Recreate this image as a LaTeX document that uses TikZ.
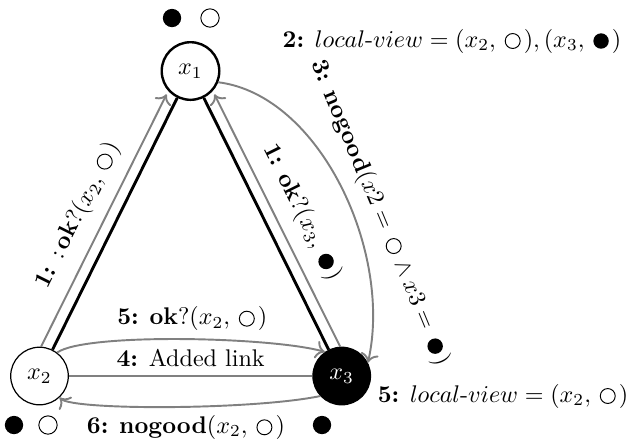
\documentclass[tikz,border=0pt]{standalone}
\usetikzlibrary{arrows.meta}
\newcommand{\Wc}{\kern2pt\tikz[baseline=-2.5pt]\draw[black,line width=0.4pt,-] (0,0) circle[radius=3.1pt];\kern1.3pt}
\newcommand{\Bc}{\kern2pt\tikz[baseline=-2.5pt]\fill[black] (0,0) circle[radius=3.2pt];\kern1.3pt}
\begin{document}
\begin{tikzpicture}[x=0.415pt,y=-0.415pt,
  var/.style={circle,draw,minimum size=23.9pt,inner sep=0pt,line width=0.5pt},
  edge/.style={line width=1.2pt,draw=black},
  msg/.style={draw=gray,line width=0.8pt,-{To[length=3.8pt,width=7.5pt]}},
  link/.style={draw=gray,line width=0.8pt},
  dot/.style={circle,inner sep=0pt,minimum size=7.6pt}]
\useasboundingbox (0,0) rectangle (637,446);
\node[var,line width=1pt] (x1) at (190.5,71) {$x_1$};
\node[var] (x2) at (39.5,376) {$x_2$};
\node[var,fill=black,text=white] (x3) at (341.7,376) {$x_3$};
\draw[edge] (x1) -- (x2);
\draw[edge] (x1) -- (x3);
\draw[msg,shorten >=1.5pt] (x2.87) -- node[sloped,above=2pt,pos=0.47] {\textbf{1:} :\,\textbf{ok}?$(x_2,\Wc)$} (x1.222);
\draw[msg,shorten >=1.5pt] (x3.93) -- node[sloped,above=2pt,pos=0.48] {\textbf{1:} \textbf{ok}?$(x_3,\Bc)$} (x1.318);
\draw[msg] (x1.-22) .. controls +(102,13) and +(25,-110) .. (x3.27);
\node[rotate=-67.5] (n3) at (380,213) {\textbf{3:} \textbf{nogood}$(x2=\Wc\wedge x3=\Bc)$};
\draw[msg] (x2.53) .. controls +(28,-20) and +(-52,-15) .. node[above,pos=0.53] {\textbf{5:} \textbf{ok}?$(x_2,\Wc)$} (x3.125);
\draw[link] (x2) -- node[above] {\textbf{4:} Added link} (x3);
\draw[msg] (x3.223) .. controls +(-68,14) and +(13,13) .. node[below,pos=0.45] {\textbf{6:} \textbf{nogood}$(x_2,\Wc)$} (x2.-47);
\node (lv2) at (452,41) {\textbf{2:} $local$-$view=(x_2,\Wc),(x_3,\Bc)$};
\node (lv5) at (503,396) {\textbf{5:} $local$-$view=(x_2,\Wc)$};
\node[dot,fill=black] (d1) at (172,18) {};
\node[dot,draw,line width=0.4pt] (d2) at (210,18) {};
\node[dot,fill=black] (d3) at (14,425) {};
\node[dot,draw,line width=0.4pt] (d4) at (48,425) {};
\node[dot,fill=black] (d5) at (322,425) {};
\end{tikzpicture}
\end{document}
